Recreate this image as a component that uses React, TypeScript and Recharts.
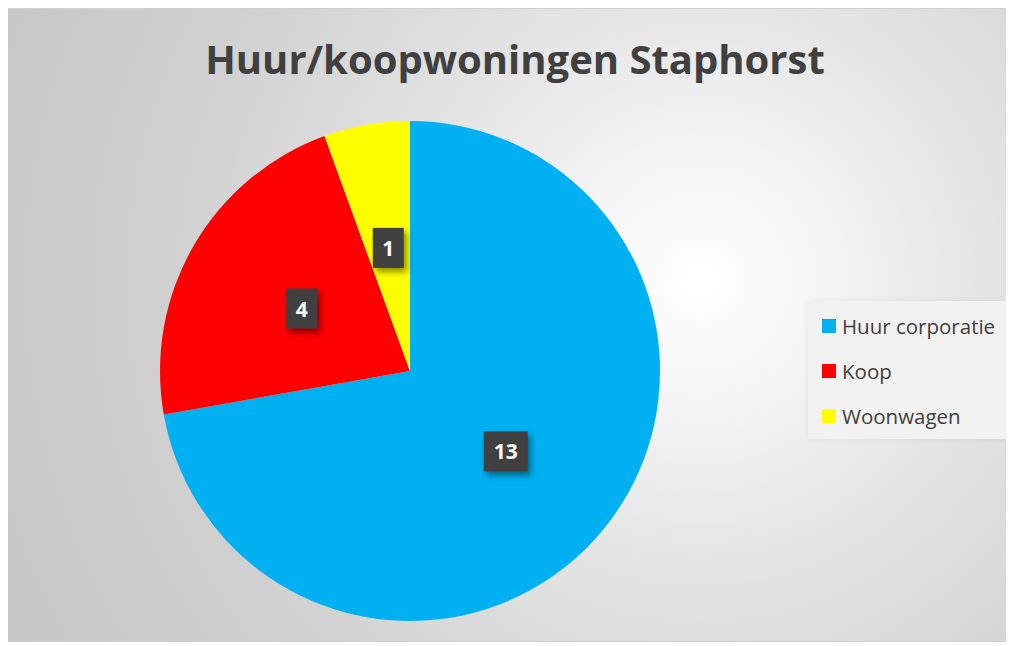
import React from 'react';
import { PieChart, Pie, Cell, Legend } from 'recharts';

const categories = ['Huur corporatie', 'Koop', 'Woonwagen'];
const values = [13, 4, 1];
const colors = ['#00B0F0', '#FF0000', '#FFFF00'];

const data = categories.map((name, i) => ({ name, value: values[i] }));

const RAD = Math.PI / 180;

// dark box label with drop shadow, placed at half the radius
const renderLabel = (props: any) => {
  const { cx, cy, midAngle, outerRadius, value } = props;
  const r = outerRadius * 0.5;
  const x = cx + r * Math.cos(-midAngle * RAD);
  const y = cy + r * Math.sin(-midAngle * RAD);
  const text = String(value);
  const w = text.length > 1 ? 44 : 31;
  const h = 40;
  return (
    <g>
      <rect
        x={x - w / 2}
        y={y - h / 2}
        width={w}
        height={h}
        fill="#404040"
        style={{ filter: 'drop-shadow(3px 4px 3px rgba(0,0,0,0.45))' }}
      />
      <text x={x} y={y} fill="#fff" textAnchor="middle" dominantBaseline="central"
        style={{ fontFamily: '"Open Sans", sans-serif', fontWeight: 700, fontSize: 21 }}>
        {text}
      </text>
    </g>
  );
};

const LegendBox = () => (
  <div style={{
    background: '#f2f2f2', width: 200, height: 138, boxSizing: 'border-box',
    padding: '2px 0 0 14px', boxShadow: '0 0 6px rgba(0,0,0,0.08)',
    fontFamily: '"Open Sans", sans-serif', fontSize: 20.5, color: '#404040',
  }}>
    {categories.map((c, i) => (
      <div key={c} style={{ display: 'flex', alignItems: 'center', height: 45 }}>
        <span style={{ width: 14, height: 14, background: colors[i], display: 'inline-block', marginRight: 6 }} />
        {c}
      </div>
    ))}
  </div>
);

export default function App() {
  return (
    <div style={{
      position: 'relative', width: 1004, height: 632, marginLeft: -1,
      border: '1px solid #cfcfcf',
      background: 'radial-gradient(circle at 69% 43%, #ffffff 0%, #f6f6f6 14%, #e2e2e2 40%, #d2d2d2 65%, #c6c6c6 100%)',
    }}>
      <div style={{
        position: 'absolute', top: 22, left: 0, width: 1014, textAlign: 'center',
        fontFamily: '"Open Sans", sans-serif', fontWeight: 700, fontSize: 40, color: '#404040',
      }}>
        Huur/koopwoningen Staphorst
      </div>
      <PieChart width={1004} height={632} style={{ position: 'absolute', top: 0, left: 0 }}>
        <Pie
          data={data}
          dataKey="value"
          nameKey="name"
          cx={397}
          cy={357}
          outerRadius={250}
          startAngle={90}
          endAngle={-270}
          stroke="none"
          label={renderLabel}
          labelLine={false}
          isAnimationActive={false}
        >
          {data.map((d, i) => <Cell key={d.name} fill={colors[i]} />)}
        </Pie>
        <Legend
          content={<LegendBox />}
          layout="vertical"
          align="right"
          verticalAlign="top"
          wrapperStyle={{ top: 292, left: 800, width: 200 }}
        />
      </PieChart>
    </div>
  );
}
